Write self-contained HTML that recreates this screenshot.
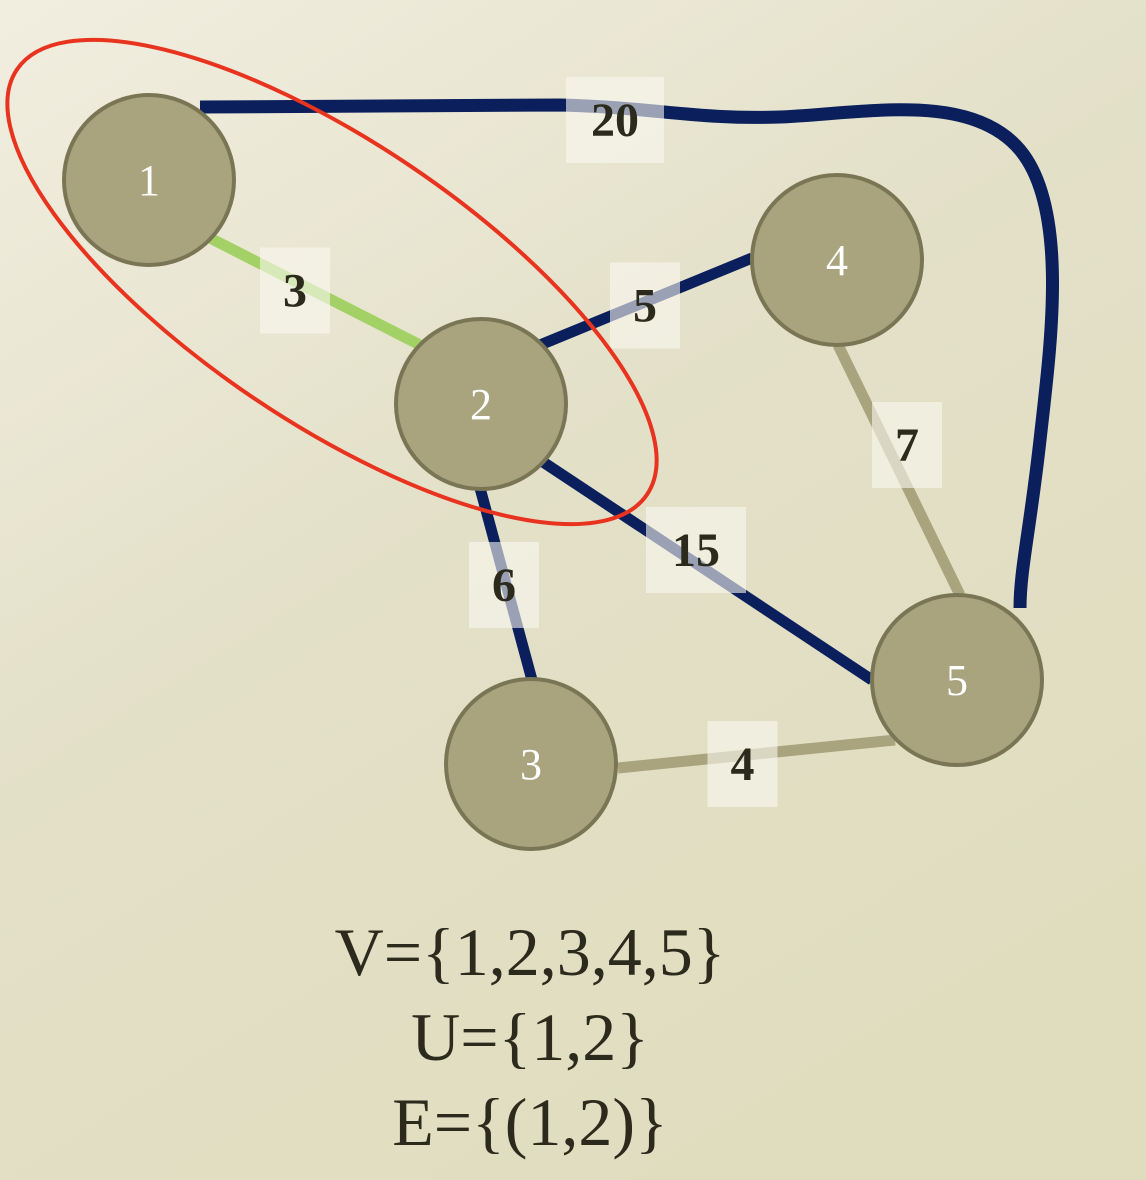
<!DOCTYPE html>
<html><head><meta charset="utf-8"><style>
html,body{margin:0;padding:0;width:1146px;height:1180px;overflow:hidden}
svg{display:block}
</style></head><body>
<svg id="g" width="1146" height="1180" viewBox="0 0 1146 1180">
<defs><linearGradient id="bg" x1="0" y1="0" x2="0.6" y2="1"><stop offset="0" stop-color="#f1eee0"/><stop offset="0.5" stop-color="#e3e0c8"/><stop offset="1" stop-color="#e0ddbf"/></linearGradient></defs>
<rect width="1146" height="1180" fill="url(#bg)"/>
<g id="edges"></g><g id="nodes"></g><g id="labels"></g>
<ellipse cx="332" cy="282" rx="380" ry="140" transform="rotate(34 332 282)" fill="none" stroke="#e8341f" stroke-width="4"/>
<g font-family="'Liberation Serif','DejaVu Serif',serif" font-size="68" fill="#2c2a1c" text-anchor="middle">
<text x="530" y="975">V={1,2,3,4,5}</text>
<text x="530" y="1060">U={1,2}</text>
<text x="530" y="1145">E={(1,2)}</text>
</g>
</svg>
<script>
const nodeIds=[1,2,3,4,5];
const nodeX=[149,481,531,837,957];
const nodeY=[180,404,764,260,680];
const edgeFrom=[1,2,2,2,4,3];
const edgeTo=[2,4,3,5,5,5];
const edgeWeights=[3,5,6,15,7,4];
const edgeKind=['green','navy','navy','navy','tan','tan'];
const curveWeight=20;
const NS='http://www.w3.org/2000/svg';
const colors={green:'#a3d165',navy:'#0a1f5c',tan:'#a9a47e'};
const R=85;
// layout: endpoint offsets relative to node centres (from / to) and label nudges
const portFrom=[[61,58],[59,-59],[-1,84],[59,56],[1,85],[87,4]];
const portTo=[[-61,-59],[-85,-2],[1,-84],[-85,0],[3,-85],[-62,60]];
const labelNudge=[[-20,-1],[-1,4],[-2,1],[-10,-20],[8,-25],[-14,10]];
function pos(id){const i=nodeIds.indexOf(id);return [nodeX[i],nodeY[i]];}
const eg=document.getElementById('edges'),ng=document.getElementById('nodes'),lg=document.getElementById('labels');
function label(x,y,t,w){
  const r=document.createElementNS(NS,'rect');
  r.setAttribute('x',x-w/2);r.setAttribute('y',y-43);r.setAttribute('width',w);r.setAttribute('height',86);
  r.setAttribute('fill','rgba(250,249,240,0.6)');
  
  
  lg.appendChild(r);
  const tx=document.createElementNS(NS,'text');
  tx.setAttribute('x',x);tx.setAttribute('y',y+16);tx.setAttribute('text-anchor','middle');
  tx.setAttribute('font-family',"'Liberation Serif',serif");tx.setAttribute('font-weight','bold');tx.setAttribute('font-size','48');tx.setAttribute('fill','#2c2a1c');
  tx.textContent=t;
  
  
  lg.appendChild(tx);
}
edgeFrom.forEach((f,i)=>{
  const [cx1,cy1]=pos(f),[cx2,cy2]=pos(edgeTo[i]);
  const x1=cx1+portFrom[i][0],y1=cy1+portFrom[i][1],x2=cx2+portTo[i][0],y2=cy2+portTo[i][1];
  const l=document.createElementNS(NS,'line');
  l.setAttribute('x1',x1);l.setAttribute('y1',y1);l.setAttribute('x2',x2);l.setAttribute('y2',y2);
  l.setAttribute('stroke',colors[edgeKind[i]]);l.setAttribute('stroke-width','11');
  
  
  eg.appendChild(l);
  const mx=(x1+x2)/2+labelNudge[i][0],my=(y1+y2)/2+labelNudge[i][1];
  label(mx,my,String(edgeWeights[i]),String(edgeWeights[i]).length>1?100:70);
});
const [ax,ay]=pos(1),[bx,by]=pos(5);
const p=document.createElementNS(NS,'path');
p.setAttribute('d',`M${ax+51},${ay-73} L560,105 C650,107 700,120 780,117 C860,114 970,90 1020,150 C1070,210 1050,350 1040,440 C1030,530 1020,570 ${bx+63},${by-72}`);
p.setAttribute('fill','none');p.setAttribute('stroke',colors.navy);p.setAttribute('stroke-width','13');


eg.appendChild(p);
label(615,120,String(curveWeight),98);
nodeIds.forEach((id,i)=>{
  const c=document.createElementNS(NS,'circle');
  c.setAttribute('cx',nodeX[i]);c.setAttribute('cy',nodeY[i]);c.setAttribute('r',R);
  c.setAttribute('fill','#a9a47e');c.setAttribute('stroke','#7a7655');c.setAttribute('stroke-width','4');
  
  
  ng.appendChild(c);
  const t=document.createElementNS(NS,'text');
  t.setAttribute('x',nodeX[i]);t.setAttribute('y',nodeY[i]+15);t.setAttribute('text-anchor','middle');
  t.setAttribute('font-family',"'Liberation Serif',serif");t.setAttribute('font-size','44');t.setAttribute('fill','#ffffff');
  t.textContent=id;
  
  
  ng.appendChild(t);
});
</script>
</body></html>
